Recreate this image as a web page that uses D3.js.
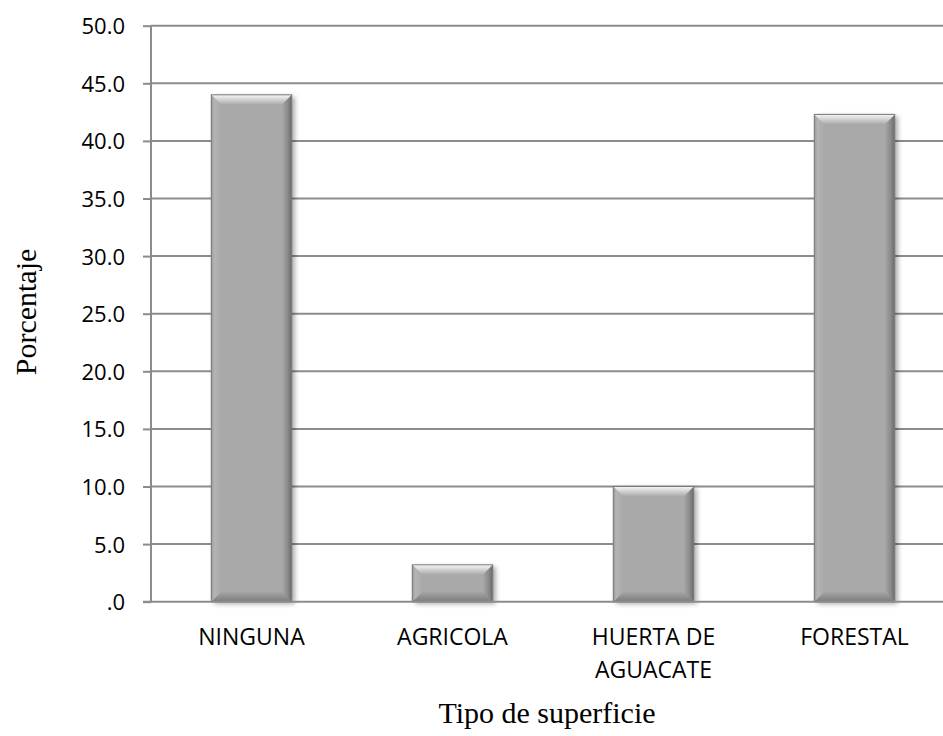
<!DOCTYPE html>
<html>
<head>
<meta charset="utf-8">
<script src="https://cdn.jsdelivr.net/npm/d3@7"></script>
<style>
  html, body { margin: 0; padding: 0; background: #ffffff; }
  svg { display: block; }
</style>
</head>
<body>
<svg id="chart" width="943" height="736"></svg>
<script>
// ---- data ----
const categories = ["NINGUNA", "AGRICOLA", "HUERTA DE AGUACATE", "FORESTAL"];
const categoryLines = [["NINGUNA"], ["AGRICOLA"], ["HUERTA DE", "AGUACATE"], ["FORESTAL"]];
const values = [44.0, 3.2, 10.0, 42.3];
const yTicks = [0, 5, 10, 15, 20, 25, 30, 35, 40, 45, 50];
const yTickLabels = [".0", "5.0", "10.0", "15.0", "20.0", "25.0", "30.0", "35.0", "40.0", "45.0", "50.0"];
const yTitle = "Porcentaje";
const xTitle = "Tipo de superficie";

// ---- layout ----
const svg = d3.select("#chart");
const plotLeft = 151, plotRight = 955, plotTop = 25.7, plotBottom = 601.7;

const x = d3.scaleBand().domain(categories).range([plotLeft, plotRight])
  .paddingInner(0.6).paddingOuter(0.3);
const y = d3.scaleLinear().domain([0, 50]).range([plotBottom, plotTop]);

const defs = svg.append("defs");
function grad(id, x1, y1, x2, y2, stops) {
  const g = defs.append("linearGradient").attr("id", id)
    .attr("x1", x1).attr("y1", y1).attr("x2", x2).attr("y2", y2);
  stops.forEach(s => g.append("stop").attr("offset", s[0]).attr("stop-color", s[1]));
}
grad("gTop", 0, 0, 0, 1, [[0, "#f6f6f6"], [0.35, "#dcdcdc"], [1, "#a9a9a9"]]);
grad("gLeft", 0, 0, 1, 0, [[0, "#9a9a9a"], [0.3, "#b4b4b4"], [1, "#a9a9a9"]]);
grad("gRight", 0, 0, 1, 0, [[0, "#a9a9a9"], [0.6, "#8a8a8a"], [1, "#6a6a6a"]]);
grad("gBottom", 0, 0, 0, 1, [[0, "#a6a6a6"], [1, "#7c7c7c"]]);

const f = defs.append("filter").attr("id", "shadow")
  .attr("x", "-10%").attr("y", "-10%").attr("width", "130%").attr("height", "130%");
f.append("feDropShadow").attr("dx", 3).attr("dy", 2).attr("stdDeviation", 2.5)
  .attr("flood-color", "#000").attr("flood-opacity", 0.35);

// gridlines
svg.append("g").selectAll("line").data(yTicks.filter(d => d > 0)).join("line")
  .attr("x1", plotLeft).attr("x2", 943)
  .attr("y1", d => y(d)).attr("y2", d => y(d))
  .attr("stroke", "#8c8c8c").attr("stroke-width", 2);

// bars
const bev = 10;
const bars = svg.append("g").selectAll("g").data(categories).join("g");
bars.each(function (c, i) {
  const g = d3.select(this);
  const x0 = x(c), x1 = x(c) + x.bandwidth();
  const y0 = y(values[i]), y1 = y(0);
  const b = Math.min(bev, (y1 - y0) / 2);
  g.append("rect").attr("x", x0).attr("y", y0).attr("width", x1 - x0).attr("height", y1 - y0)
    .attr("fill", "#a9a9a9").attr("filter", "url(#shadow)");
  const poly = (pts, fill) => g.append("polygon")
    .attr("points", pts.map(p => p.join(",")).join(" ")).attr("fill", fill);
  poly([[x0, y1], [x1, y1], [x1 - b, y1 - b], [x0 + b, y1 - b]], "url(#gBottom)");
  poly([[x0, y0], [x0 + b, y0 + b], [x0 + b, y1 - b], [x0, y1]], "url(#gLeft)");
  poly([[x1, y0], [x1 - b, y0 + b], [x1 - b, y1 - b], [x1, y1]], "url(#gRight)");
  poly([[x0, y0], [x1, y0], [x1 - b, y0 + b], [x0 + b, y0 + b]], "url(#gTop)");
  g.append("rect").attr("x", x0).attr("y", y0).attr("width", x1 - x0).attr("height", y1 - y0)
    .attr("fill", "none").attr("stroke", "#7a7a7a").attr("stroke-width", 1);
});

// x axis line
svg.append("line").attr("x1", plotLeft - 8).attr("x2", 943)
  .attr("y1", y(0)).attr("y2", y(0)).attr("stroke", "#8c8c8c").attr("stroke-width", 2);

// y axis
const yAxis = d3.axisLeft(y).tickValues(yTicks).tickSize(8).tickPadding(18)
  .tickFormat((d, i) => yTickLabels[i]);
const ya = svg.append("g").attr("transform", `translate(${plotLeft},0)`).call(yAxis);
ya.select(".domain").attr("stroke", "#8c8c8c").attr("stroke-width", 2).attr("d", `M0,${y(50)}V${y(0)}`);
ya.selectAll(".tick line").attr("stroke", "#8c8c8c").attr("stroke-width", 2);
ya.selectAll(".tick text").attr("font-family", "Open Sans").attr("font-size", 22)
  .attr("fill", "#000").attr("dy", "0.36em");

// category labels
const lbl = svg.append("g").selectAll("text").data(categories).join("text")
  .attr("x", d => x(d) + x.bandwidth() / 2).attr("y", 645)
  .attr("text-anchor", "middle").attr("font-family", "Open Sans").attr("font-size", 23)
  .attr("fill", "#000");
lbl.each(function (d, i) {
  d3.select(this).selectAll("tspan").data(categoryLines[i]).join("tspan")
    .attr("x", x(d) + x.bandwidth() / 2).attr("dy", (t, j) => j === 0 ? 0 : 33).text(t => t);
});

// titles
svg.append("text").attr("transform", "translate(36,312) rotate(-90)")
  .attr("text-anchor", "middle").attr("font-family", "Liberation Serif").attr("font-size", 30)
  .attr("fill", "#000").text(yTitle);
svg.append("text").attr("x", 547).attr("y", 723)
  .attr("text-anchor", "middle").attr("font-family", "Liberation Serif").attr("font-size", 30)
  .attr("fill", "#000").text(xTitle);
</script>
</body>
</html>
